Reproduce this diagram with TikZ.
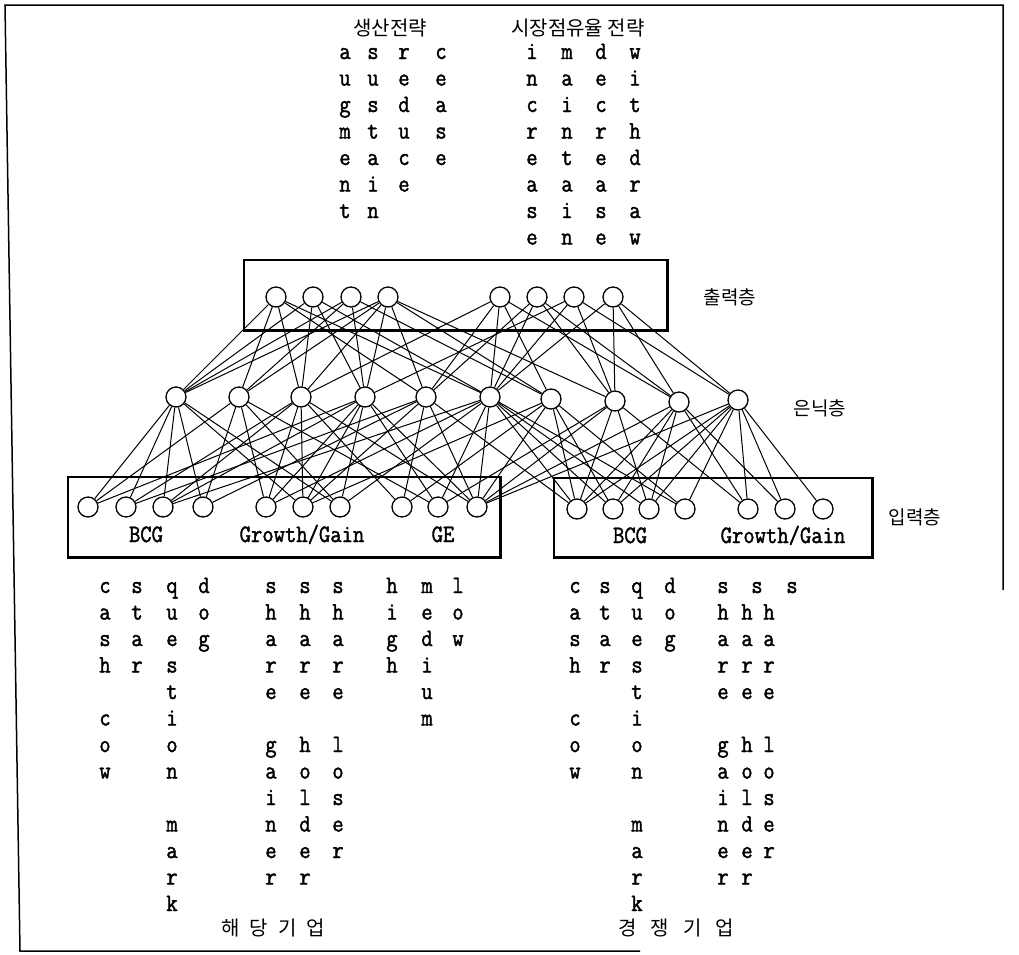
\documentclass[tikz,border=0pt]{standalone}
\usepackage{fontspec}
\newfontfamily\kr{Noto Sans CJK KR}
\newfontfamily\tw{Latin Modern Mono}[FakeStretch=0.88,FakeBold=1.6]
\tikzset{
 neuron/.style={circle, draw, line width=1.3pt, fill=white, minimum size=20pt, inner sep=0pt},
 conn/.style={line width=1pt},
 ltr/.style={anchor=base, inner sep=0pt, font=\tw\fontsize{25}{25}\selectfont},
 krl/.style={inner sep=0pt, font=\kr\fontsize{19}{19}\selectfont},
 layerbox/.style={draw, line width=1.3pt, inner sep=0pt},
 shadowline/.style={line width=2.6pt},
}
\newcommand\vword[4]{%
  \foreach \ch [count=\k] in {#4} {\node[ltr] (#1-\k) at (#2, #3+26.5*\k-26.5) {\ch};}}
\begin{document}
\begin{tikzpicture}[x=1pt,y=-1pt]
\useasboundingbox (0,0) rectangle (1019,954);
% frame
\draw[line width=1.5pt] (1003,590) -- (1003,5) -- (5,5) -- (20,951) -- (640,951);
% boxes
\node[layerbox, minimum width=423pt, minimum height=70pt] (outbox) at (455.5,295) {};
\draw[shadowline] (outbox.south west) -- (outbox.south east) -- (outbox.north east);
\node[layerbox, minimum width=432pt, minimum height=80pt] (inboxA) at (284,517) {};
\draw[shadowline] (inboxA.south west) -- (inboxA.south east) -- (inboxA.north east);
\node[layerbox, minimum width=318pt, minimum height=79pt] (inboxB) at (713,517.5) {};
\draw[shadowline] (inboxB.south west) -- (inboxB.south east) -- (inboxB.north east);
% neurons
\foreach \n/\x in {1/276,2/313,3/351,4/388,5/500,6/537,7/574,8/613}
  \node[neuron] (O\n) at (\x,297) {};
\foreach \n/\x/\y in {1/176/397,2/239/397,3/301/397,4/365/397,5/426/397,6/490/397,7/551/399,8/615/401,9/679/402,10/738/400}
  \node[neuron] (H\n) at (\x,\y) {};
\foreach \n/\x in {1/88,2/126,3/163,4/203,5/266,6/303,7/340,8/402,9/438,10/477}
  \node[neuron] (I\n) at (\x,507) {};
\foreach \n/\x in {1/577,2/613,3/649,4/685,5/748,6/785,7/823}
  \node[neuron] (J\n) at (\x,509) {};
% output - hidden connections
\foreach \a/\b in {O1/H1,O1/H2,O1/H3,O1/H5,O1/H6,
                   O2/H1,O2/H3,O2/H4,O2/H6,
                   O3/H1,O3/H2,O3/H4,O3/H7,
                   O4/H1,O4/H2,O4/H3,O4/H4,O4/H5,O4/H7,O4/H8,
                   O5/H3,O5/H5,O5/H6,O5/H7,O5/H9,
                   O6/H5,O6/H6,O6/H8,O6/H9,
                   O7/H4,O7/H6,O7/H8,O7/H10,
                   O8/H6,O8/H8,O8/H9,O8/H10}
  \draw[conn] (\a) -- (\b);
% hidden - input connections
\foreach \a/\b in {H1/I1,H1/I2,H1/I3,H1/I4,H1/I6,H1/I7,
                   H2/I1,H2/I4,H2/I5,H2/I7,H2/I9,
                   H3/I2,H3/I3,H3/I5,H3/I6,H3/I8,H3/I10,
                   H4/I1,H4/I3,H4/I5,H4/I6,H4/I7,H4/I9,H4/I10,
                   H5/I2,H5/I4,H5/I6,H5/I8,H5/I10,H5/J1,
                   H6/I3,H6/I5,H6/I7,H6/I9,H6/I10,H6/J1,H6/J2,H6/J3,H6/J4,
                   H7/I6,H7/I8,H7/I10,H7/J1,H7/J2,H7/J4,
                   H8/I9,H8/I10,H8/J1,H8/J3,H8/J5,
                   H9/I10,H9/J1,H9/J2,H9/J3,H9/J5,H9/J6,
                   H10/I10,H10/J1,H10/J2,H10/J3,H10/J4,H10/J5,H10/J6,H10/J7}
  \draw[conn] (\a) -- (\b);
% layer labels
\node[krl] (lblout) at (730,297) {출력층};
\node[krl] (lblhid) at (820,408) {은닉층};
\node[krl] (lblin) at (915,517) {입력층};
% box labels
\node[ltr] (bcgA) at (146,542) {BCG};
\node[ltr] (ggA) at (302,542) {Growth/Gain};
\node[ltr] (geA) at (443,542) {GE};
\node[ltr] (bcgB) at (630,543) {BCG};
\node[ltr] (ggB) at (783,543) {Growth/Gain};
% top headers
\node[krl, font=\kr\fontsize{20}{20}\selectfont] (prod) at (390,28) {생산전략};
\node[krl, font=\kr\fontsize{20}{20}\selectfont] (mkt) at (578,28) {시장점유율 전략};
% top vertical words
\vword{aug}{345}{59}{a,u,g,m,e,n,t}
\vword{sus}{373}{59}{s,u,s,t,a,i,n}
\vword{red}{404}{59}{r,e,d,u,c,e}
\vword{cea}{441}{59}{c,e,a,s,e}
\vword{inc}{532}{59}{i,n,c,r,e,a,s,e}
\vword{mai}{567}{59}{m,a,i,n,t,a,i,n}
\vword{dec}{601}{59}{d,e,c,r,e,a,s,e}
\vword{wit}{635}{59}{w,i,t,h,d,r,a,w}
% bottom left words
\vword{cashA}{105}{593}{c,a,s,h,,c,o,w}
\vword{starA}{137}{593}{s,t,a,r}
\vword{quesA}{172}{593}{q,u,e,s,t,i,o,n,,m,a,r,k}
\vword{dogA}{204}{593}{d,o,g}
\vword{sgA}{271}{593}{s,h,a,r,e,,g,a,i,n,e,r}
\vword{shA}{305}{593}{s,h,a,r,e,,h,o,l,d,e,r}
\vword{slA}{338}{593}{s,h,a,r,e,,l,o,s,e,r}
\vword{hig}{392}{593}{h,i,g,h}
\vword{med}{427}{593}{m,e,d,i,u,m}
\vword{low}{458}{593}{l,o,w}
% bottom right words
\vword{cashB}{575}{593}{c,a,s,h,,c,o,w}
\vword{starB}{605}{593}{s,t,a,r}
\vword{quesB}{637}{593}{q,u,e,s,t,i,o,n,,m,a,r,k}
\vword{dogB}{670}{593}{d,o,g}
\vword{sgB}{723}{593}{,h,a,r,e,,g,a,i,n,e,r}
\vword{shB}{747}{593}{,h,a,r,e,,h,o,l,d,e,r}
\vword{slB}{769}{593}{,h,a,r,e,,l,o,s,e,r}
\node[ltr] (sgBs) at (723,593) {s};
\node[ltr] (shBs) at (757,593) {s};
\node[ltr] (slBs) at (792,593) {s};
% group captions
\node[krl, font=\kr\fontsize{20}{20}\selectfont] (grpA) at (273,928) {해\hspace{10pt}당\hspace{10pt}기\hspace{10pt}업};
\node[krl, font=\kr\fontsize{20}{20}\selectfont] (grpB) at (676,928) {경\hspace{14pt}쟁\hspace{14pt}기\hspace{14pt}업};
\end{tikzpicture}
\end{document}
